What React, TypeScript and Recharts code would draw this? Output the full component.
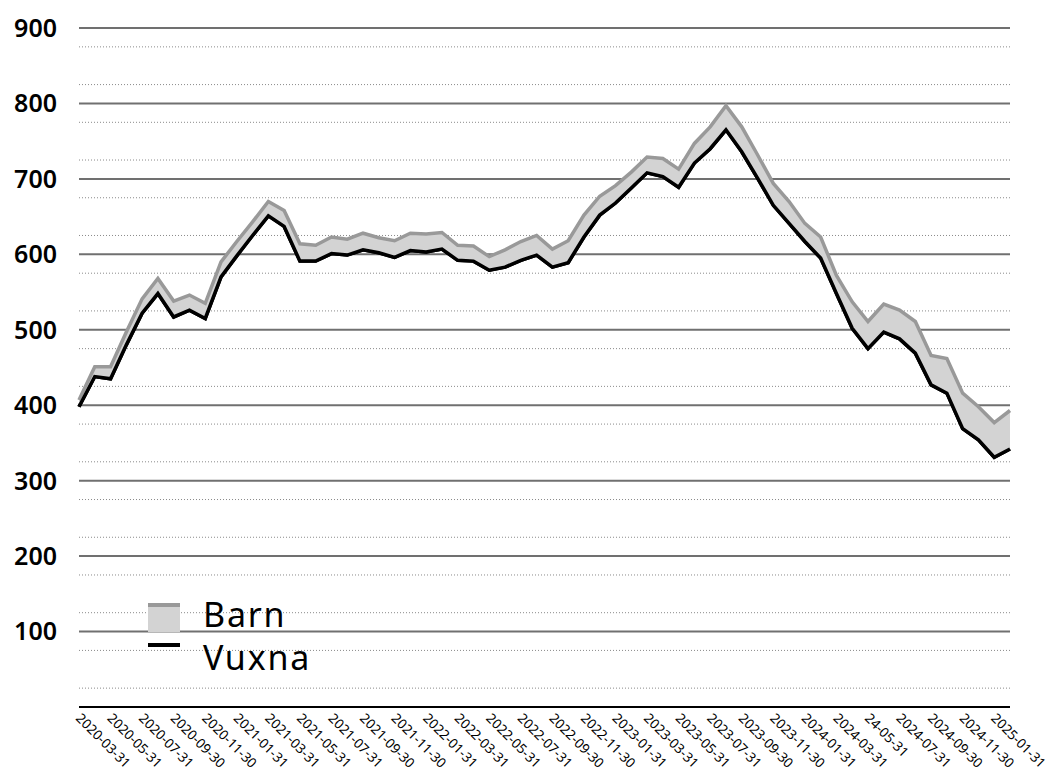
import { AreaChart, Area, XAxis, YAxis, CartesianGrid, Legend } from 'recharts';

// Månadsslut 2020-03 – 2025-02
const months = [
  '2020-03-31', '2020-04-30', '2020-05-31', '2020-06-30', '2020-07-31', '2020-08-31',
  '2020-09-30', '2020-10-31', '2020-11-30', '2020-12-31',
  '2021-01-31', '2021-02-28', '2021-03-31', '2021-04-30', '2021-05-31', '2021-06-30',
  '2021-07-31', '2021-08-31', '2021-09-30', '2021-10-31', '2021-11-30', '2021-12-31',
  '2022-01-31', '2022-02-28', '2022-03-31', '2022-04-30', '2022-05-31', '2022-06-30',
  '2022-07-31', '2022-08-31', '2022-09-30', '2022-10-31', '2022-11-30', '2022-12-31',
  '2023-01-31', '2023-02-28', '2023-03-31', '2023-04-30', '2023-05-31', '2023-06-30',
  '2023-07-31', '2023-08-31', '2023-09-30', '2023-10-31', '2023-11-30', '2023-12-31',
  '2024-01-31', '2024-02-29', '2024-03-31', '2024-04-30', '24-05-31', '2024-06-30',
  '2024-07-31', '2024-08-31', '2024-09-30', '2024-10-31', '2024-11-30', '2024-12-31',
  '2025-01-31', '2025-02-28',
];

const vuxna = [
  398, 438, 435, 480, 522, 548, 517, 526, 515, 570,
  598, 625, 651, 637, 591, 591, 601, 599, 606, 602,
  596, 605, 603, 607, 592, 591, 579, 583, 592, 599,
  583, 589, 623, 652, 668, 688, 708, 703, 689, 721,
  740, 765, 736, 701, 665, 641, 617, 595, 548, 502,
  475, 497, 488, 469, 427, 416, 369, 354, 331, 342,
];

const barn = [
  9, 13, 16, 17, 19, 20, 21, 20, 20, 20,
  19, 18, 19, 21, 23, 21, 22, 21, 22, 20,
  22, 23, 24, 22, 20, 20, 18, 23, 25, 26,
  24, 29, 29, 25, 23, 21, 21, 24, 24, 26,
  29, 32, 33, 31, 29, 29, 24, 28, 24, 35,
  36, 37, 38, 42, 39, 46, 47, 44, 46, 51,
];

const majorTicks = [100, 200, 300, 400, 500, 600, 700, 800, 900];
const minorTicks = [
  25, 50, 75, 125, 150, 175, 225, 250, 275, 325, 350, 375, 425, 450, 475,
  525, 550, 575, 625, 650, 675, 725, 750, 775, 825, 850, 875,
];

const data = months.map((m, i) => ({ month: m, vuxna: vuxna[i], barn: barn[i] }));

const FONT = '"Noto Sans", "Open Sans", sans-serif';

function MonthTick(props: any) {
  const { x, y, payload } = props;
  const tx = x - 4;
  const ty = y + 4;
  return (
    <text
      x={tx}
      y={ty}
      transform={`rotate(45, ${tx}, ${ty})`}
      textAnchor="start"
      fontSize={13.5}
      fontFamily={FONT}
      fill="#000"
    >
      {payload.value}
    </text>
  );
}

function LegendBox() {
  return (
    <svg width={260} height={84} style={{ display: 'block', overflow: 'visible' }}>
      <rect x={0} y={3} width={32} height={4} fill="#999" />
      <rect x={0} y={7} width={32} height={25} fill="#d3d3d3" />
      <rect x={0} y={43} width={32} height={4} fill="#000" />
      <text x={55} y={27} fontSize={34} letterSpacing={1.8} fontFamily={FONT} fill="#000">Barn</text>
      <text x={55} y={70} fontSize={34} letterSpacing={1.8} fontFamily={FONT} fill="#000">Vuxna</text>
    </svg>
  );
}

export default function App() {
  return (
    <div style={{ position: 'absolute', left: 0, top: 0, width: 1049, height: 773, background: '#fff' }}>
      <AreaChart
        width={1049}
        height={773}
        data={data}
        margin={{ top: 28, right: 39, left: 0, bottom: 0 }}
      >
        <CartesianGrid vertical={false} horizontalValues={minorTicks} stroke="#8a8a8a" strokeDasharray="1 2" />
        <CartesianGrid vertical={false} horizontalValues={majorTicks} stroke="#707070" strokeWidth={2} />
        <XAxis
          dataKey="month"
          height={66}
          interval={1}
          tickLine={false}
          axisLine={{ stroke: '#000', strokeWidth: 2 }}
          tick={<MonthTick />}
        />
        <YAxis
          width={79}
          domain={[0, 900]}
          ticks={majorTicks}
          axisLine={false}
          tickLine={false}
          tickSize={0}
          tickMargin={22}
          tick={{ fill: '#000', fontSize: 25, fontWeight: 600, fontFamily: FONT }}
        />
        <Area
          type="linear"
          dataKey="vuxna"
          stackId="a"
          stroke="#000"
          strokeWidth={3.5}
          fill="none"
          isAnimationActive={false}
        />
        <Area
          type="linear"
          dataKey="barn"
          stackId="a"
          stroke="#999"
          strokeWidth={3.5}
          fill="#d3d3d3"
          fillOpacity={1}
          isAnimationActive={false}
        />
        <Area
          type="linear"
          dataKey="vuxna"
          stroke="#000"
          strokeWidth={3.5}
          fill="none"
          isAnimationActive={false}
          legendType="none"
        />
        <Legend
          layout="horizontal"
          verticalAlign="middle"
          align="center"
          content={<LegendBox />}
          wrapperStyle={{ left: 148, top: 600, width: 260 }}
        />
      </AreaChart>
    </div>
  );
}
